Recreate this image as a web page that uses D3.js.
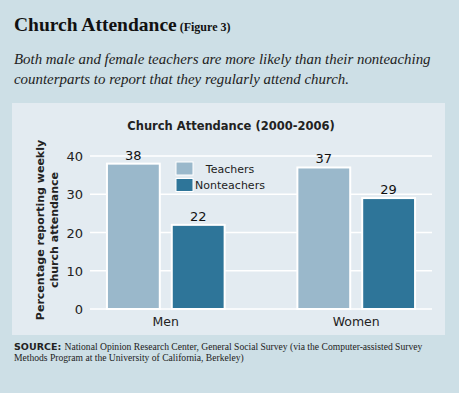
<!DOCTYPE html>
<html>
<head>
<meta charset="utf-8">
<script src="https://cdn.jsdelivr.net/npm/d3@7"></script>
<style>
  body { margin: 0; background: #cddfe6; }
  svg { display: block; }
</style>
</head>
<body>
<svg id="chart" width="459" height="393"></svg>
<script>
var groups = ['Men', 'Women']
var series = ['Teachers', 'Nonteachers']
var teachers = [38, 37]
var nonteachers = [22, 29]
var yTicks = [0, 10, 20, 30, 40]
var colors = ['#9ab8cb', '#2e7599']

var svg = d3.select('#chart')
var sans = '"DejaVu Sans", sans-serif'
var serif = '"Liberation Serif", serif'

svg.append('rect').attr('width', 459).attr('height', 393).attr('fill', '#cddfe6')

// heading
var h = svg.append('text').attr('x', 14).attr('y', 31)
  .attr('font-family', serif).attr('font-weight', 'bold').attr('fill', '#111')
h.append('tspan').attr('font-size', '19.5px').text('Church Attendance')
h.append('tspan').attr('font-size', '12px').attr('dx', 3).text('(Figure 3)')

svg.selectAll('.sub')
  .data(['Both male and female teachers are more likely than their nonteaching',
    'counterparts to report that they regularly attend church.'])
  .enter().append('text')
  .attr('x', 14)
  .attr('y', function (d, i) { return 64 + i * 20 })
  .attr('font-family', serif).attr('font-style', 'italic')
  .attr('font-size', '14.9px').attr('fill', '#222')
  .text(function (d) { return d })

// panel
svg.append('rect').attr('x', 12).attr('y', 103).attr('width', 433).attr('height', 232)
  .attr('fill', '#e3ebf1')

svg.append('text').attr('x', 231).attr('y', 130)
  .attr('text-anchor', 'middle').attr('font-family', sans).attr('font-weight', 'bold')
  .attr('font-size', '11.5px').attr('fill', '#222')
  .text('Church Attendance (2000-2006)')

var x = d3.scaleBand().domain(groups).range([90, 432]).paddingInner(0.382).paddingOuter(0.089)
var xs = d3.scaleBand().domain(series).range([0, x.bandwidth()]).paddingInner(0.185)
var y = d3.scaleLinear().domain([0, 40]).range([309, 156])

// gridlines
svg.selectAll('.grid')
  .data(yTicks)
  .enter().append('line')
  .attr('x1', 90).attr('x2', 432)
  .attr('y1', function (d) { return y(d) }).attr('y2', function (d) { return y(d) })
  .attr('stroke', '#fff').attr('stroke-width', 1.5)

svg.selectAll('.ytick')
  .data(yTicks)
  .enter().append('text')
  .attr('x', 83).attr('y', function (d) { return y(d) + 5 })
  .attr('text-anchor', 'end').attr('font-family', sans).attr('font-size', '13px').attr('fill', '#222')
  .text(function (d) { return d })

var ylab = svg.append('text')
  .attr('transform', 'translate(45,230) rotate(-90)')
  .attr('text-anchor', 'middle').attr('font-family', sans).attr('font-weight', 'bold')
  .attr('font-size', '11px').attr('fill', '#222')
ylab.append('tspan').attr('x', 0).attr('y', -1).text('Percentage reporting weekly')
ylab.append('tspan').attr('x', 0).attr('y', 12.5).text('church attendance')

var rows = []
groups.forEach(function (g, i) {
  rows.push({ g: g, s: series[0], v: teachers[i], c: colors[0] })
  rows.push({ g: g, s: series[1], v: nonteachers[i], c: colors[1] })
})

svg.selectAll('.bar')
  .data(rows)
  .enter().append('rect')
  .attr('x', function (d) { return x(d.g) + xs(d.s) })
  .attr('y', function (d) { return y(d.v) })
  .attr('width', xs.bandwidth())
  .attr('height', function (d) { return y(0) - y(d.v) })
  .attr('fill', function (d) { return d.c })
  .attr('stroke', '#fff').attr('stroke-width', 2)

svg.selectAll('.val')
  .data(rows)
  .enter().append('text')
  .attr('x', function (d) { return x(d.g) + xs(d.s) + xs.bandwidth() / 2 })
  .attr('y', function (d) { return y(d.v) - 4 })
  .attr('text-anchor', 'middle').attr('font-family', sans).attr('font-size', '13px').attr('fill', '#111')
  .text(function (d) { return d.v })

svg.selectAll('.cat')
  .data(groups)
  .enter().append('text')
  .attr('x', function (d) { return x(d) + x.bandwidth() / 2 })
  .attr('y', 326)
  .attr('text-anchor', 'middle').attr('font-family', sans).attr('font-size', '12.5px').attr('fill', '#222')
  .text(function (d) { return d })

// legend
var leg = svg.selectAll('.leg')
  .data(series)
  .enter().append('g')
  .attr('transform', function (d, i) { return 'translate(176,' + (162 + i * 16.5) + ')' })
leg.append('rect').attr('width', 17).attr('height', 13)
  .attr('fill', function (d, i) { return colors[i] })
  .attr('stroke', '#fff').attr('stroke-width', 1)
leg.append('text').attr('x', 54).attr('y', 10.5)
  .attr('text-anchor', 'middle').attr('font-family', sans).attr('font-size', '11px').attr('fill', '#222')
  .text(function (d) { return d })

// source
var src = svg.append('text').attr('x', 14).attr('y', 350)
  .attr('font-family', serif).attr('font-size', '9.6px').attr('fill', '#222')
src.append('tspan').attr('font-family', sans).attr('font-weight', 'bold').attr('font-size', '9.5px').text('SOURCE: ')
src.append('tspan').text('National Opinion Research Center, General Social Survey (via the Computer-assisted Survey')
svg.append('text').attr('x', 14).attr('y', 361)
  .attr('font-family', serif).attr('font-size', '9.6px').attr('fill', '#222')
  .text('Methods Program at the University of California, Berkeley)')
</script>
</body>
</html>
